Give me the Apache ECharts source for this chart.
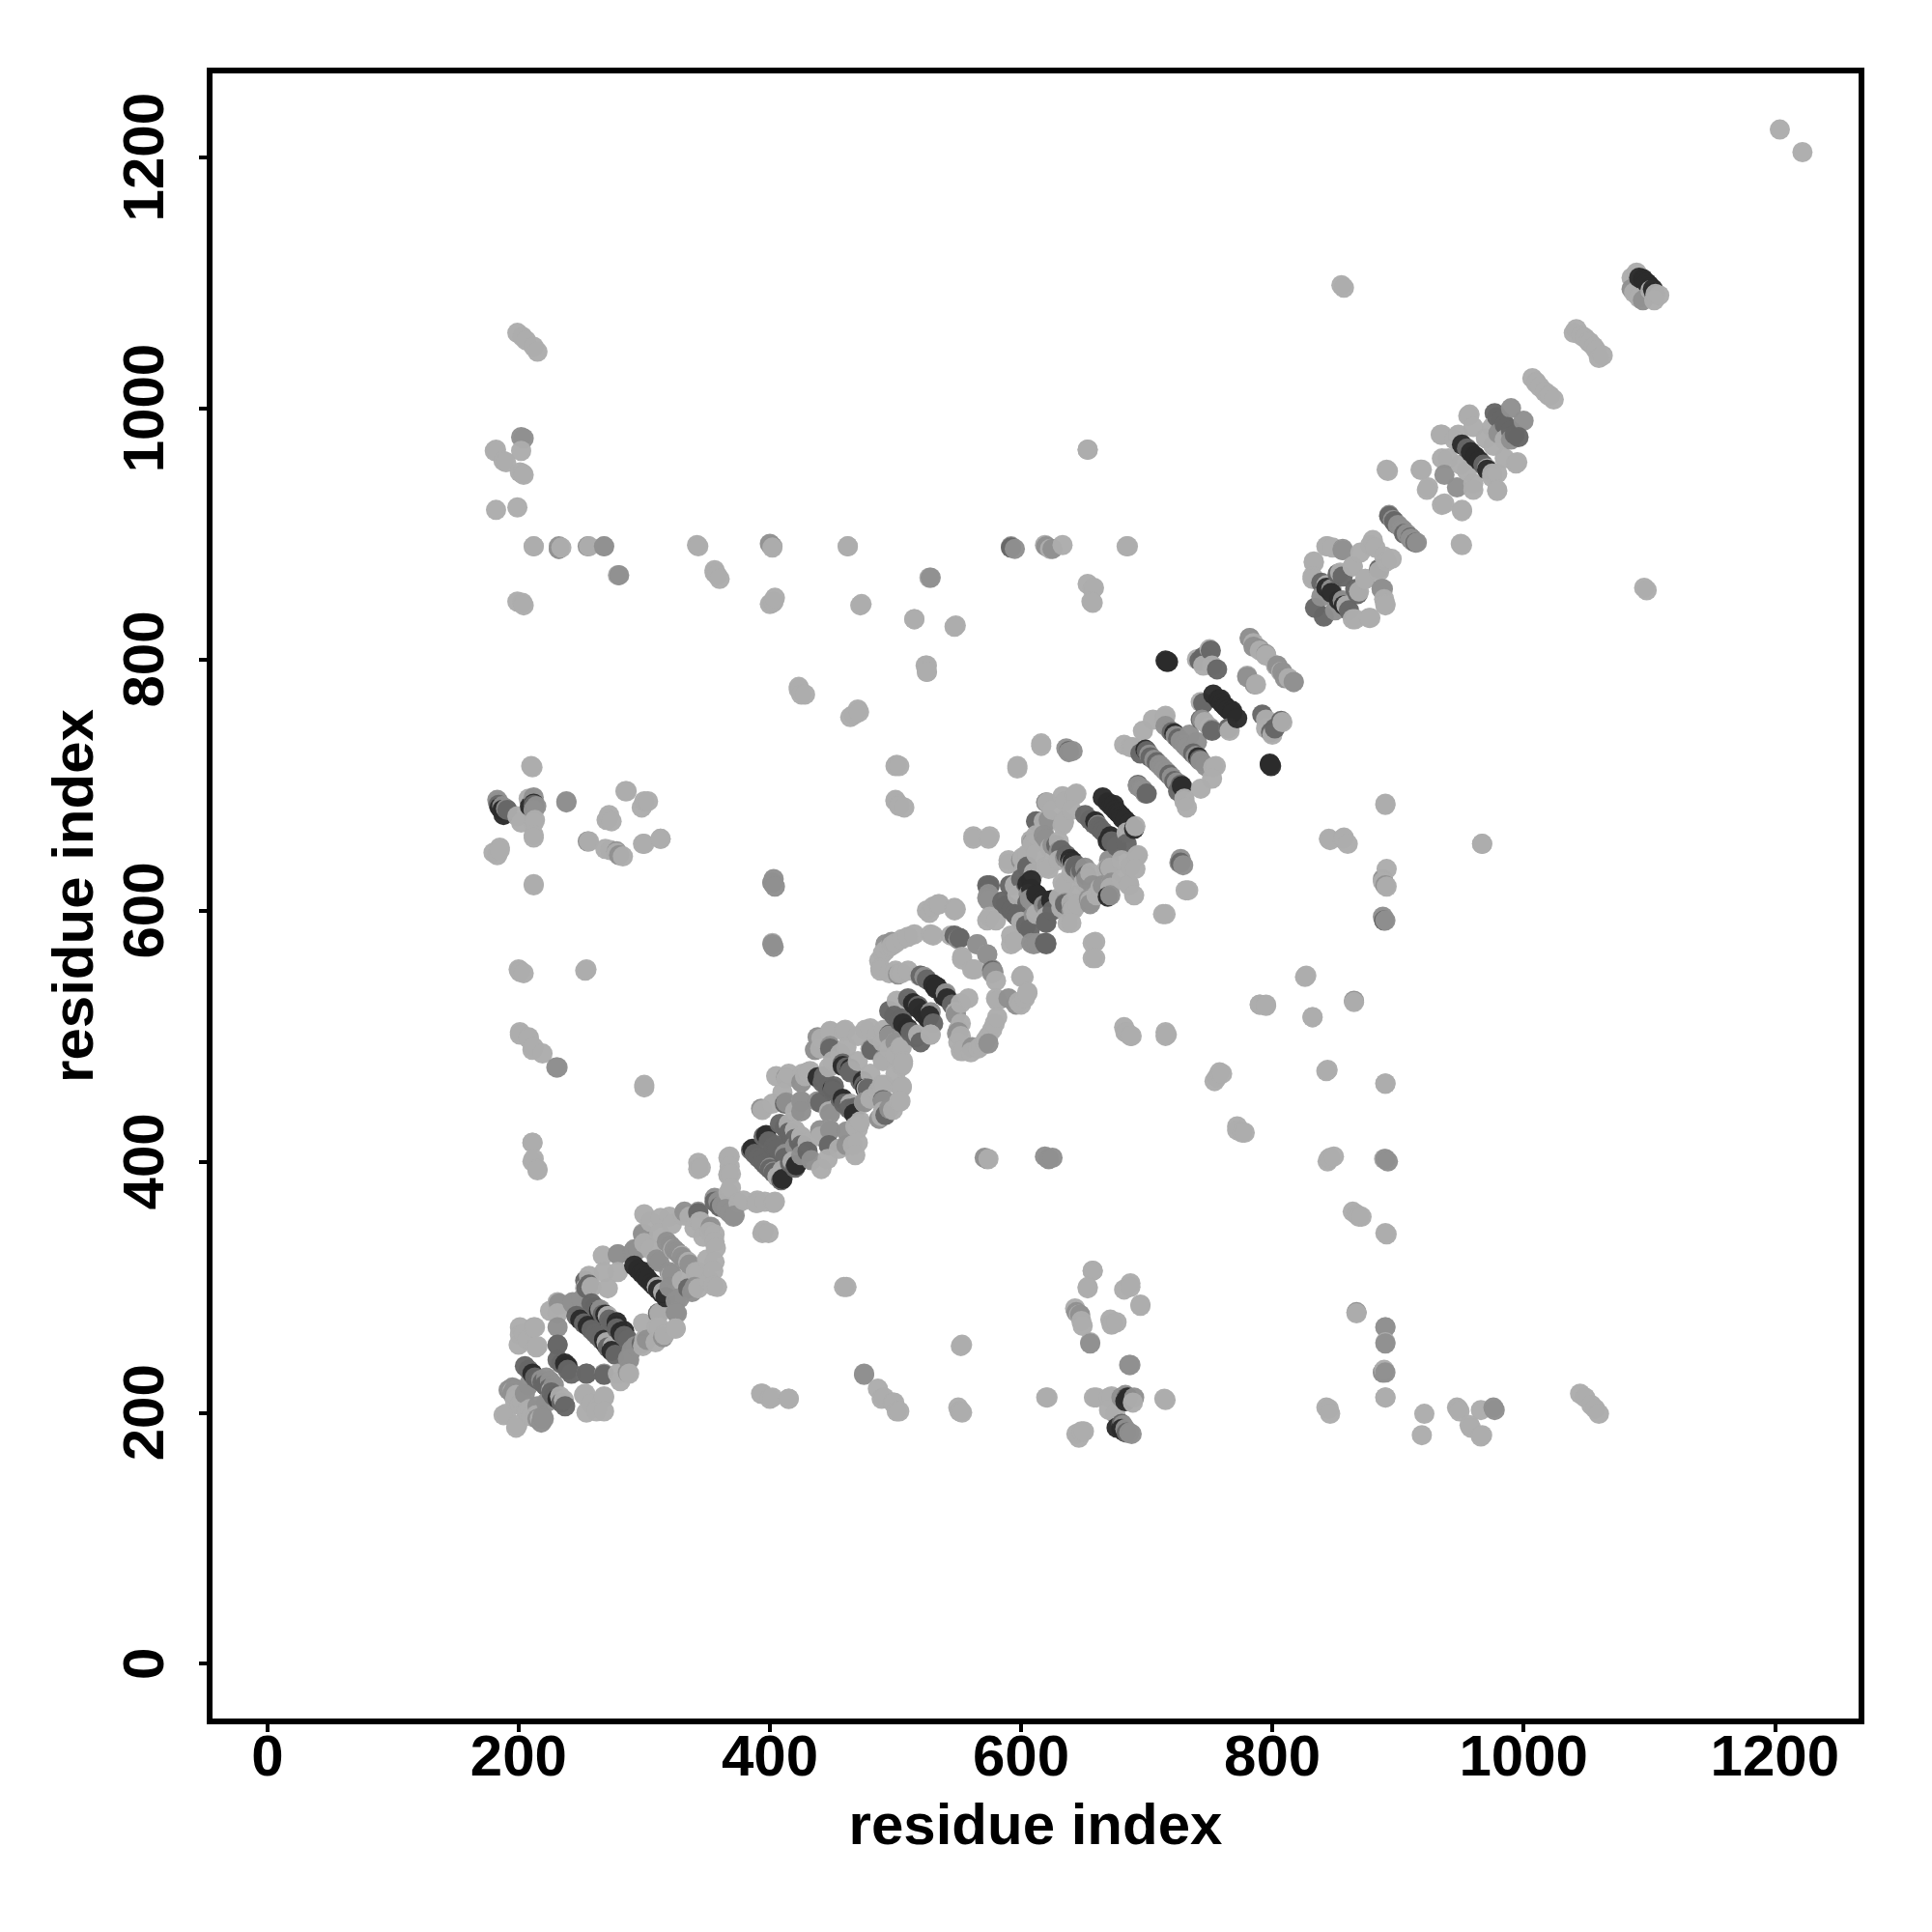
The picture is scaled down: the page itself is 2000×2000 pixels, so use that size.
<!DOCTYPE html>
<html><head><meta charset="utf-8">
<style>html,body{margin:0;padding:0;background:#fff}#c{width:2000px;height:2000px}</style>
<script src="https://cdn.jsdelivr.net/npm/echarts@6/dist/echarts.min.js"></script>
</head><body><div id="c"></div>
<script>
const tickLabels=[0,200,400,600,800,1000,1200];
const axisTitle='residue index';
// contacts [i,j], i<j, the map is symmetric so each is shown at (i,j) and (j,i)
const lightContacts=[
[1204,1222],[857,1096],[855,1098],[199,1060],[203,1057],[206,1054],[212,1049],[215,1045],[181,966],[188,958],[201,949],[204,947],[182,919],[199,921],
[212,890],[232,888],[234,889],[256,890],[268,890],[342,891],[356,869],[360,864],[402,889],[462,890],[473,844],[515,832],[548,827],[524,795],[525,790],[619,891],[623,888],[633,891],[684,890],[653,860],[658,857],[656,846],
[199,846],[204,843],[403,846],[400,844],[423,778],[428,772],[471,758],[464,754],[501,716],[503,715],[597,713],[616,733],
[210,715],[285,695],[303,687],[298,682],[271,673],[274,671],[313,657],[299,653],[256,655],[269,649],[278,646],[283,643],[208,689],[199,675],[202,670],[213,672],[212,658],[185,648],[180,646],[212,621],
[500,687],[503,684],[507,682],[562,659],[575,659],[402,574],[201,552],[204,550],[254,553],[201,503],[208,499],[212,491],[219,486],[300,461],[211,415],[211,400],[215,394],
[715,597],[731,616],[657,574],[657,562],[600,547],[890,685],[845,657],[856,657],[967,653],[653,967],[826,547],[832,515],[865,527],[790,525],[795,525],[715,500],[683,503],[688,500],[756,467],[760,470],[843,472],[890,462],[772,425],[776,423],[845,402],[849,404],[867,358],[871,356],[890,343],[867,279],[890,212],
[300,459],[552,253],[620,212],[714,211],[695,286],[687,300],[657,313],[653,300],[672,270],[676,272],[648,273],[489,211],[393,215],[415,211],[402,212],[551,201],[501,201],[644,183],[650,185],[660,212],[670,212],[845,203],[966,202],[948,203],[957,190],[967,182],[498,208],[553,200],
[188,198],[199,190],[203,209],[195,217],[198,214],[201,268],[213,268],[200,254],[215,253],[204,263],[207,258],[231,288],[225,281],[212,268],[201,262],[252,214],[231,279],[201,207],[206,201],[210,197],
[253,299],[256,309],[268,312],[267,325],[279,312],[271,299],[258,300],[300,358],[305,352],[313,355],[320,356],[299,343],[312,343],[331,357],[336,356],[344,352],[342,356],[345,352],[340,347],[300,335],[305,330],[322,350],
[368,404],[368,396],[369,390],[369,379],[367,389],[367,403],[343,399],[343,394],[345,395],[375,367],[390,367],
[394,441],[402,446],[425,448],[413,466],[426,470],[432,472],[405,468],[430,471],[415,470],[428,468],[420,440],[440,447],[420,425],[425,420],[430,415],[410,455],
[448,504],[460,505],[436,489],[441,498],[461,491],[476,505],[491,505],[480,490],[480,506],[459,504],[448,503],[440,490],[447,475],[450,480],[456,486],[470,480],[495,500],[495,490],[485,500],[470,500],
[501,528],[515,581],[510,579],[505,577],[500,574],[495,571],[490,566],[487,560],[488,552],[492,568],[497,572],[528,581],[544,580],[565,573],[553,563],[561,553],[530,580],[548,601],[535,605],[527,598],[519,548],[503,550],[525,600],[530,603],[534,605],[547,602],[488,554],[495,550],[505,550],[500,552],[510,552],
[575,595],[580,592],[573,592],[590,637],[601,642],[620,635],[622,633],[601,641],[609,653],[623,650],[608,655],[630,655],[618,663],[633,668],[590,640],[595,620],[597,612],[602,632],[612,645],[630,640],[610,630],
[620,686],[633,691],[644,693],[634,671],[618,671],[608,656],[643,692],[635,687],[621,686],[622,672],[609,654],[634,670],[625,680],[640,680],[612,660],[605,645],
[682,732],[687,730],[697,743],[705,752],[715,755],[714,753],[689,730],
[746,750],[743,766],[752,795],[750,808],[740,800],[745,795],[780,787],[782,817],[785,813],[795,803],[803,795],[807,790],
[1088,1092],[1086,1104],[1090,1108],[1042,1063],[1046,1058],[1049,1056],[1052,1053],[1040,1060],[1007,1024],[1010,1021],[1013,1017],[1020,1010],
[956,994],[934,979],[948,979],[970,976],[957,995],[935,979],[918,951],[891,951],[892,950],[919,951],[924,937],[923,935],[940,960],[945,975],[935,960],[960,985],[975,985],[950,955],
[843,890],[848,889],[833,877],[864,874],[874,864],[832,866],[859,843],[869,854],[856,887],[844,890],[833,878],[832,864],[878,891],[882,889],[880,895],[870,885]
];
const midContacts=[
[202,977],[204,976],[231,475],[238,687],[280,867],[528,865],[592,889],[595,888],[402,622],[404,619],[403,571],[641,727],[212,680],[214,683],[190,681],[184,686],[726,638],[729,636],
[573,402],[622,402],[625,403],[890,402],[892,400],[890,268],[890,255],[888,232],[890,232],[890,620],[888,625],[890,592],[475,230],[686,238],[655,255],[644,280],[647,278],[683,187],[688,183],[680,212],[690,212],
[231,254],[231,268],[232,287],[243,287],[195,215],[197,219],[205,215],[208,222],[250,290],[279,326],[291,328],[310,322],[312,320],[356,371],[359,368],[362,365],[365,362],
[413,447],[425,448],[448,492],[481,490],[448,490],[495,500],[502,549],[551,578],[573,565],[550,577],[574,608],[574,613],[607,609],[573,610],[640,600],[612,671],[654,609],[622,672],
[693,699],[696,697],[734,740],[745,765],[752,744],[780,786],[790,808],[795,804],[1086,1095],[937,947],[847,856],[856,888],[856,887],[839,850],[893,915],[896,911],[900,907],[903,904],[1000,990],
[195,220],[192,218],[222,228],[225,225],[318,336],[321,333],[324,330],[326,328],[425,440],[438,448],[620,657],[625,652],[630,647],[635,642],[638,640],[702,724],[706,720],[710,716],[712,714],[719,743],[723,739],[727,735],[730,732],[715,747],[782,817],[810,785]
];
const dimContacts=[
[205,237],[208,234],[213,228],[216,226],[219,224],[221,222],[231,242],[234,239],[246,277],[252,271],[258,266],[261,263],[258,287],[261,284],[267,278],[272,274],
[385,409],[388,406],[391,403],[394,400],[396,398],[395,420],[399,416],[403,412],[406,410],[408,430],[412,427],[416,423],[418,420],[442,463],[446,459],[450,456],[461,475],[464,472],[443,468],[458,478],
[503,512],[495,520],[499,516],[510,530],[525,545],[520,548],[585,607],[588,604],[592,600],[595,597],[600,625],[604,621],[605,635],[574,619],[628,652],[632,648],[636,644],[655,672],[658,669],[661,667],[663,665],[651,676],
[693,700],[695,725],[703,722],[742,799],[745,802],[751,807],[756,792],[638,727],[743,752],[765,745],[979,993],[982,990],[985,987],[977,996],[955,968],[839,861],[834,841],[856,866],[852,868],[191,680],[184,684],[212,684],[592,889],[573,620],[591,620],
[720,742],[725,737],[700,727],[708,718],[893,914],[897,910]
];
const darkContacts=[
[211,231],[237,239],[249,274],[255,269],[258,268],[264,281],[269,278],[292,317],[295,314],[298,311],[301,308],[303,306],[438,467],[450,458],[458,476],[464,474],
[506,510],[514,526],[515,525],[518,522],[530,541],[532,538],[533,539],[608,624],[608,617],[612,613],[639,641],[659,671],[665,690],[669,686],[672,683],[675,680],[677,678],[715,799],[717,798],[716,798],
[753,772],[757,768],[760,765],[762,763],[759,768],[951,971],[958,965],[961,962],[1092,1104],[1096,1101],[1098,1100],[1095,1103],[843,857],[847,853],[185,682],[188,680],[676,188],[680,187],[683,209],[685,212],
[699,728],[722,741],[386,410],[397,421]
];
// discs read individually, which lie over the strips or edge the rings
const overLight=[
[236,210],[233,213],[226,218],[275,253],[270,256],[271,277],[278,272],[315,296],[321,309],[310,300],[323,330],[330,325],[325,267],[310,268],[316,262],[341,312],[335,320],[355,301],[406,388],[418,400],[410,393],[477,458],[464,446],[489,461],[505,459],[506,478],[504,491],[518,501],[528,501],[691,667],[684,662],[1105,1091],[1101,1094],[971,952],[975,948],[558,530],[552,526],[548,519],[690,612],[640,606],[600,591]
];
const overMid=[
[233,286],[243,288],[288,242],[325,280],[279,326],[292,330],[475,447],[661,668],[670,640],[905,901],[910,896],[912,894],[651,634],[618,604],[610,596],[980,980],[990,975],[540,534],[528,519],[218,226],[320,300],[265,282],[425,405],
[332,360],[343,360],[353,348],[372,357],[299,342],[295,330],[293,253],[302,258],[315,260],[325,289],[338,296],[340,300],
[436,489],[438,499],[413,467],[425,463],[487,434],[495,442],[461,424],[461,413],[433,401],[393,442],
[492,573],[497,575],[523,547],[577,553],[574,494],[561,491],[596,525],[550,503],[548,517],[590,530],
[620,686],[618,660],[670,634],[665,620],[655,605],[635,606],[606,613],[400,395],[403,392],[412,406],[420,412]
];
const overDim=[
[254,231],[268,230],[231,254],[311,279],[298,255],[335,299],[256,302],[405,413],[395,403],[415,423],[425,413],[447,413],[412,446],[440,447],[451,460],[464,471],[448,490],[481,489],[495,501],[490,449],[492,437],[505,514],[518,524],[684,653],[605,634],[605,606],[593,601],[620,590],[620,574],[575,620],[905,900],[898,908],[643,634],[885,872],
[356,368],[360,364],[254,299],[253,305],[343,359],[551,578],[547,580],[577,552],[612,671]
];
const overDark=[
[284,265],[527,516],[533,539],[674,684],[681,673],[669,655],[669,611],[605,621],[624,608],[278,272],[300,312]
];
const tiers=[[lightContacts,'#acacac',true],[midContacts,'#8f8f8f',true],[dimContacts,'#666666',true],[darkContacts,'#2b2b2b',true],
 [overLight,'#acacac',false],[overMid,'#8f8f8f',false],[overDim,'#666666',false],[overDark,'#2b2b2b',false]];
const points=[];
tiers.forEach(([list,color,both])=>list.forEach(([i,j])=>{points.push({value:[i,j],itemStyle:{color}});if(both)points.push({value:[j,i],itemStyle:{color}});}));
points.sort((a,b)=>(a.value[0]-a.value[1]/3)-(b.value[0]-b.value[1]/3));
const font='"Liberation Sans"';
function axis(extra){return Object.assign({type:'value',min:-46,max:1269,name:axisTitle,nameLocation:'middle',
 nameTextStyle:{fontFamily:font,fontWeight:'bold',fontSize:60,color:'#000'},
 axisLine:{show:false,onZero:false},splitLine:{show:false},
 axisTick:{show:true,length:11,customValues:tickLabels,lineStyle:{color:'#000',width:4}}},extra);}
const fmt=v=>String(v);
const chart=echarts.init(document.getElementById('c'),null,{renderer:'canvas'});
chart.setOption({animation:false,backgroundColor:'#fff',
 grid:{left:217,top:73,width:1710,height:1709,show:true,borderColor:'#000',borderWidth:6,backgroundColor:'#fff'},
 xAxis:axis({nameGap:80,axisLabel:{customValues:tickLabels,formatter:fmt,margin:9,fontFamily:font,fontWeight:'bold',fontSize:60,color:'#000'}}),
 yAxis:axis({nameGap:108,axisLabel:{customValues:tickLabels,formatter:fmt,rotate:90,margin:35,fontFamily:font,fontWeight:'bold',fontSize:60,color:'#000',align:'center',verticalAlign:'bottom'}}),
 series:[{type:'scatter',symbol:'circle',symbolSize:21,data:points,itemStyle:{opacity:.97},silent:true}]
});
</script></body></html>
